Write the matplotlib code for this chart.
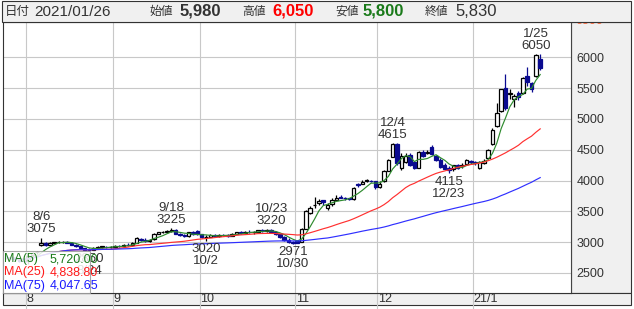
import numpy as np
import pandas as pd
import matplotlib
matplotlib.use('Agg')
import matplotlib.pyplot as plt
from matplotlib.patches import Rectangle
from matplotlib.transforms import blended_transform_factory

plt.rcParams['font.family'] = ['Liberation Sans', 'Noto Sans CJK JP', 'DejaVu Sans']

# trading days (TSE holidays removed)
holidays = ['2020-08-10', '2020-09-21', '2020-09-22', '2020-11-03', '2020-11-23',
            '2020-12-31', '2021-01-01', '2021-01-11']
dates = pd.bdate_range('2020-07-27', '2021-01-26')
dates = dates[~dates.isin(pd.to_datetime(holidays))]

# daily prices
open_ = [2760, 2750, 2740, 2720, 2700, 2690, 2790, 2840, 2950, 2980,
         2960, 2990, 2995, 3000, 3010, 2990, 2960, 2930, 2900, 2880,
         2880, 2910, 2920, 2925, 2915, 2920, 2940, 2935, 2960, 2950,
         2990, 3050, 3040, 3020, 3050, 3140, 3160, 3160, 3180, 3200,
         3140, 3110, 3100, 3160, 3180, 3130, 3080, 3090, 3120, 3100,
         3120, 3110, 3100, 3140, 3160, 3150, 3170, 3160, 3170, 3190,
         3180, 3200, 3170, 3130, 3080, 3040, 3010, 3020, 3010, 3220,
         3480, 3600, 3630, 3680, 3560, 3620, 3690, 3730, 3720, 3710,
         3700, 3950, 3950, 4000, 4000, 3990, 3900, 3990, 4160, 4390,
         4600, 4200, 4300, 4420, 4300, 4210, 4470, 4440, 4550, 4400,
         4340, 4260, 4200, 4180, 4260, 4230, 4270, 4320, 4300, 4200,
         4290, 4370, 4600, 4880, 5130, 5500, 5400, 5320, 5420, 5420,
         5700, 5580, 5690, 5980]
high = [2790, 2780, 2760, 2740, 2720, 2800, 2840, 2850, 3075, 3010,
        3000, 3010, 3020, 3015, 3020, 3000, 2970, 2940, 2910, 2900,
        2920, 2930, 2940, 2940, 2935, 2950, 2960, 2970, 2980, 3000,
        3080, 3070, 3060, 3050, 3150, 3170, 3175, 3190, 3225, 3210,
        3150, 3130, 3170, 3180, 3190, 3140, 3110, 3130, 3140, 3130,
        3140, 3130, 3150, 3170, 3175, 3180, 3190, 3180, 3200, 3210,
        3210, 3220, 3180, 3140, 3100, 3060, 3020, 3040, 3230, 3520,
        3580, 3740, 3700, 3690, 3640, 3720, 3760, 3760, 3740, 3720,
        3890, 3960, 4010, 4020, 4010, 4000, 3990, 4170, 4350, 4615,
        4610, 4440, 4440, 4440, 4310, 4480, 4500, 4500, 4570, 4410,
        4360, 4280, 4230, 4260, 4270, 4280, 4350, 4340, 4320, 4310,
        4350, 4520, 4850, 5260, 5490, 5730, 5480, 5400, 5450, 5680,
        5850, 5600, 6050, 6050]
low = [2730, 2720, 2700, 2680, 2660, 2653, 2760, 2800, 2930, 2940,
       2950, 2980, 2990, 2985, 2980, 2950, 2920, 2890, 2870, 2850,
       2870, 2900, 2905, 2900, 2900, 2910, 2925, 2930, 2940, 2945,
       2985, 3020, 3010, 3010, 3040, 3130, 3150, 3150, 3170, 3130,
       3100, 3090, 3090, 3120, 3120, 3060, 3020, 3080, 3090, 3080,
       3100, 3090, 3095, 3130, 3140, 3140, 3150, 3140, 3150, 3170,
       3160, 3160, 3120, 3060, 3020, 2980, 2971, 2980, 3000, 3210,
       3460, 3550, 3600, 3600, 3520, 3590, 3680, 3710, 3690, 3680,
       3690, 3900, 3940, 3980, 3970, 3870, 3880, 3980, 4150, 4380,
       4260, 4170, 4280, 4240, 4190, 4200, 4390, 4430, 4420, 4320,
       4200, 4180, 4115, 4150, 4180, 4200, 4260, 4270, 4250, 4180,
       4270, 4360, 4580, 4870, 5120, 5150, 5330, 5200, 5300, 5400,
       5540, 5440, 5680, 5800]
close = [2750, 2740, 2720, 2700, 2690, 2780, 2830, 2840, 2990, 2960,
         2990, 3000, 3010, 3005, 2990, 2960, 2930, 2900, 2880, 2870,
         2910, 2920, 2930, 2915, 2920, 2940, 2935, 2960, 2950, 2990,
         3060, 3040, 3020, 3040, 3140, 3160, 3165, 3180, 3200, 3140,
         3110, 3100, 3160, 3130, 3130, 3080, 3090, 3120, 3100, 3120,
         3110, 3100, 3140, 3160, 3150, 3170, 3160, 3170, 3190, 3180,
         3200, 3170, 3130, 3080, 3040, 3000, 2990, 2990, 3220, 3500,
         3560, 3600, 3660, 3650, 3600, 3680, 3720, 3720, 3710, 3705,
         3880, 3930, 3980, 4005, 3990, 3890, 3950, 4160, 4340, 4600,
         4280, 4400, 4400, 4260, 4200, 4460, 4400, 4470, 4434, 4330,
         4220, 4190, 4170, 4250, 4200, 4260, 4330, 4300, 4280, 4300,
         4310, 4500, 4820, 5100, 5480, 5170, 5420, 5380, 5360, 5660,
         5600, 5480, 6030, 5830]

high_marks = ['2020-08-06', '2020-09-18', '2020-10-23', '2020-12-04', '2021-01-25']
low_marks = ['2020-08-24', '2020-10-02', '2020-10-30', '2020-12-23']

W, H = 634, 309
BLUE = '#0a0a90'
TXT = '#333333'
GRID = '#c8c8c8'


def fx(px):
    return px / W


def fy(py):
    return 1 - py / H


fig = plt.figure(figsize=(W / 100, H / 100), dpi=100)
ax = fig.add_axes([fx(3), fy(293), (571 - 3) / W, (293 - 22) / H])

x = np.arange(len(dates))
o, h, l, c = map(np.array, (open_, high, low, close))
up = c >= o

# candles
ax.vlines(x[up], l[up], h[up], color='black', lw=0.9, zorder=2)
ax.vlines(x[~up], l[~up], h[~up], color=BLUE, lw=0.9, zorder=2)
ax.bar(x[up], (c - o)[up], bottom=o[up], width=0.8, facecolor='white',
       edgecolor='black', lw=0.9, zorder=2.1)
ax.bar(x[~up], (o - c)[~up], bottom=c[~up], width=0.8, facecolor=BLUE,
       edgecolor=BLUE, lw=0.9, zorder=2.1)

# moving averages
s = pd.Series(close, dtype=float)
ma5 = s.rolling(5, min_periods=1).mean()
ma25 = s.rolling(25, min_periods=1).mean()
ma75 = s.rolling(75, min_periods=1).mean()
ax.plot(x, ma5, color='#2e8b2e', lw=0.85, zorder=3)
ax.plot(x, ma25, color='#ff3030', lw=0.85, zorder=3)
ax.plot(x, ma75, color='#2f2fff', lw=0.85, zorder=3)

# peak / trough labels
for d in high_marks:
    i = dates.get_loc(pd.Timestamp(d))
    ax.annotate(f'{dates[i].month}/{dates[i].day}\n{high[i]}', (i, high[i]),
                xytext=(0, 1.5), textcoords='offset points', ha='center', va='bottom',
                fontsize=9.5, color=TXT, linespacing=1.0, zorder=4)
for d in low_marks:
    i = dates.get_loc(pd.Timestamp(d))
    ax.annotate(f'{low[i]}\n{dates[i].month}/{dates[i].day}', (i, low[i]),
                xytext=(0, -1.5), textcoords='offset points', ha='center', va='top',
                fontsize=9.5, color=TXT, linespacing=1.0, zorder=4)

# axes / grid
ax.set_xlim(-0.8, 130.1)
ax.set_ylim(2175, 6573)
yt = [2500, 3000, 3500, 4000, 4500, 5000, 5500, 6000]
ax.set_yticks(yt)
ax.set_yticklabels([str(v) for v in yt])
ax.yaxis.tick_right()
ax.tick_params(axis='y', length=0, pad=4, labelsize=9, labelcolor=TXT)
ax.set_xticks([])
ax.grid(axis='y', color=GRID, lw=0.8, zorder=0)
# top scale label, mostly hidden under the header
fig.text(fx(575), fy(21), '6500', fontsize=9, color='#ff6a3d', va='center', zorder=1)

month_start = [i for i in range(1, len(dates)) if dates[i].month != dates[i - 1].month]
trans = blended_transform_factory(ax.transData, ax.transAxes)
for i in month_start:
    ax.axvline(i - 0.5, color=GRID, lw=0.8, zorder=0)
    ax.plot([i - 0.5, i - 0.5], [0, -16 / 271], transform=trans, color=GRID,
            lw=0.8, clip_on=False)
    lab = '21/1' if dates[i].year == 2021 and dates[i].month == 1 else str(dates[i].month)
    ax.text(i - 0.3, -6 / 271, lab, transform=trans, ha='left', va='center',
            fontsize=9, color=TXT, clip_on=False)

for side in ['top', 'left', 'bottom']:
    ax.spines[side].set_color('#333333')
    ax.spines[side].set_linewidth(0.8)
ax.spines['right'].set_linestyle((0, (1, 1)))
ax.spines['right'].set_color('#444444')
ax.spines['right'].set_linewidth(0.8)

# grey panels
fig.add_artist(Rectangle((fx(571), fy(293)), (631 - 571) / W, (293 - 22) / H,
                         transform=fig.transFigure, facecolor='#f0f0f0',
                         edgecolor='#333333', lw=0.8, zorder=-1))
fig.add_artist(Rectangle((fx(3), fy(305)), (631 - 3) / W, (305 - 293) / H,
                         transform=fig.transFigure, facecolor='#f0f0f0',
                         edgecolor='#333333', lw=0.8, zorder=-1))

# legend box with MA values
fig.add_artist(Rectangle((fx(3), fy(293)), 87 / W, 42 / H, transform=fig.transFigure,
                         facecolor='white', alpha=0.85, edgecolor='#999999', lw=0.8,
                         zorder=5))
leg = [('MA(5)', ma5.iloc[-1], '#1a7a1a'),
       ('MA(25)', ma25.iloc[-1], '#ff1a1a'),
       ('MA(75)', ma75.iloc[-1], '#1a1aff')]
for k, (name, val, col) in enumerate(leg):
    yy = 259 + k * 13.5
    fig.text(fx(4), fy(yy), name, fontsize=9, color=col, va='center', zorder=6)
    fig.text(fx(50), fy(yy), f'{val:,.2f}', fontsize=9, color=col, va='center', zorder=6)

# header bar
fig.add_artist(Rectangle((fx(2), fy(22)), (631 - 2) / W, (22 - 1) / H,
                         transform=fig.transFigure, facecolor='#f0f0f0',
                         edgecolor='#333333', lw=0.8, zorder=10))
last = len(dates) - 1
hy = fy(11.5)
fig.text(fx(5), hy, '日付', fontsize=9, color=TXT, va='center', zorder=11)
fig.text(fx(34), hy, dates[last].strftime('%Y/%m/%d'), fontsize=11, color=TXT,
         va='center', zorder=11)
items = [('始値', open_[last], 150, 180, TXT, 'bold'),
         ('高値', high[last], 242, 272, '#ff0000', 'bold'),
         ('安値', low[last], 335, 363, '#1a7a1a', 'bold'),
         ('終値', close[last], 425, 455, TXT, 'normal')]
for name, val, x0, x1, col, wt in items:
    fig.text(fx(x0), hy, name, fontsize=8.5, color=TXT, va='center', zorder=11)
    fig.text(fx(x1), hy, f'{val:,}', fontsize=12, color=col, fontweight=wt,
             va='center', zorder=11)

plt.savefig('out.png', dpi=100)
